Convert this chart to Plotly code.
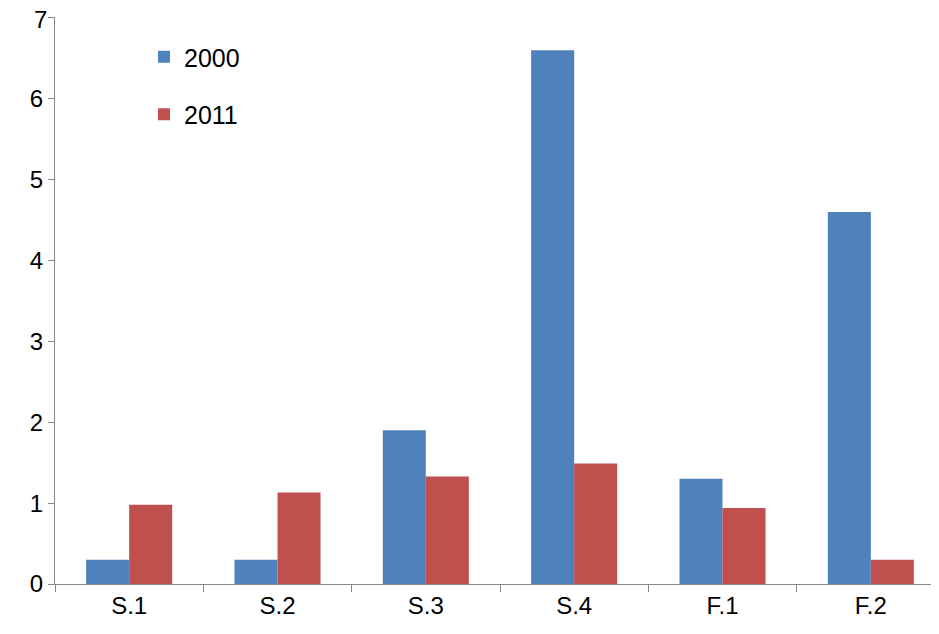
import plotly.graph_objects as go

categories = ["S.1", "S.2", "S.3", "S.4", "F.1", "F.2"]
values_2000 = [0.30, 0.30, 1.90, 6.60, 1.30, 4.60]
values_2011 = [0.98, 1.13, 1.33, 1.49, 0.94, 0.30]
y_ticks = [0, 1, 2, 3, 4, 5, 6, 7]

x = list(range(len(categories)))

fig = go.Figure()
fig.add_bar(x=x, y=values_2000, name="2000", marker_color="#4F81BD",
            marker_line_width=0, legendgroup="a")
fig.add_bar(x=x, y=values_2011, name="2011", marker_color="#C0504D",
            marker_line_width=0, legendgroup="b")

# invisible trace on overlay axis for tick marks between categories
fig.add_scatter(x=[-0.5, 5.5], y=[0, 0], xaxis="x2", mode="lines",
                line=dict(width=0), showlegend=False, hoverinfo="skip")

# top tick label gets cut by plotly near the figure edge, draw it as annotation
fig.add_annotation(x=0, xref="paper", y=y_ticks[-1], yref="y", text=str(y_ticks[-1]),
                   showarrow=False, xanchor="right", xshift=-6, yshift=-2,
                   font=dict(size=24, family="Liberation Sans, Arial", color="black"))

fig.update_layout(
    width=939, height=634,
    margin=dict(l=47, r=2, t=9, b=58),
    plot_bgcolor="white", paper_bgcolor="white",
    font=dict(family="Liberation Sans, Arial", size=24, color="black"),
    barmode="group", bargap=0.42, bargroupgap=0,
    showlegend=True,
    legend=dict(x=0.1, y=0.97, xanchor="left", yanchor="top",
                font=dict(size=25), itemsizing="constant", traceorder="grouped",
                tracegroupgap=22, bgcolor="rgba(0,0,0,0)"),
    xaxis=dict(range=[-0.5, 5.5], tickvals=x, ticktext=categories,
               ticks="", showline=True, linecolor="#868686", linewidth=1,
               showgrid=False, zeroline=False, automargin=False,
               tickfont=dict(size=24)),
    xaxis2=dict(range=[-0.5, 5.5], overlaying="x", tickvals=[i - 0.5 for i in range(7)],
                showticklabels=False, ticks="outside", ticklen=7, tickcolor="#868686",
                showgrid=False, zeroline=False, automargin=False),
    yaxis=dict(range=[0, 7.01], tickvals=y_ticks,
               ticks="outside", ticklen=6, tickcolor="#868686",
               showline=True, linecolor="#868686", linewidth=1,
               showgrid=False, zeroline=False, automargin=False,
               tickfont=dict(size=24)),
)

fig.write_html("out.html")
